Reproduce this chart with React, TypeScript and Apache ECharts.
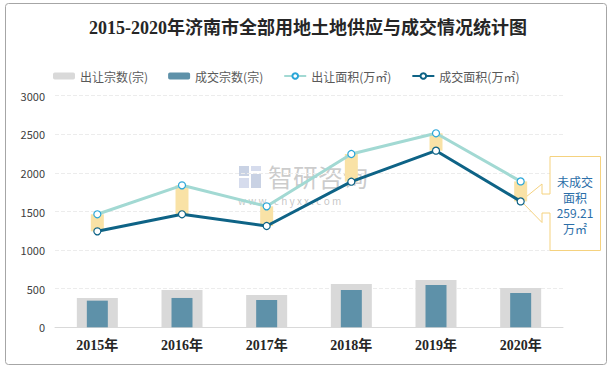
import React, { useEffect, useRef } from "react";
import * as echarts from "echarts";

const categories = ["2015年", "2016年", "2017年", "2018年", "2019年", "2020年"];
const supplyCount = [380, 483, 418, 561, 613, 509];
const dealCount = [345, 380, 354, 483, 548, 444];
const supplyArea = [1464, 1839, 1567, 2245, 2513, 1890];
const dealArea = [1243, 1464, 1312, 1886, 2288, 1631];
const yTicks = { min: 0, max: 3000, interval: 500 };
const calloutLines = ["未成交", "面积", "259.21", "万㎡"];

const serif = "Liberation Serif, 'Noto Sans CJK SC', serif";
const sans = "'Noto Sans CJK SC', 'Noto Sans', sans-serif";

export default function App() {
  const ref = useRef<HTMLDivElement>(null);
  useEffect(() => {
    const chart = echarts.init(ref.current!, undefined, { renderer: "svg" });
    const gapData = categories.map((_, i) => [i, dealArea[i], supplyArea[i]]);
    chart.setOption({
      animation: false,
      backgroundColor: "#ffffff",
      title: {
        text: "2015-2020年济南市全部用地土地供应与成交情况统计图",
        left: "center",
        top: 14,
        textStyle: { fontFamily: serif, fontWeight: "bold", fontSize: 18, color: "#262626" },
      },
      legend: {
        left: 48,
        top: 65,
        itemWidth: 22,
        itemHeight: 7,
        itemGap: 20,
        textStyle: { fontFamily: sans, fontSize: 12, color: "#595959" },
        data: ["出让宗数(宗)", "成交宗数(宗)", "出让面积(万㎡)", "成交面积(万㎡)"],
      },
      grid: { left: 55, right: 53, top: 95.7, bottom: 41.7 },
      xAxis: [
        {
          type: "category",
          data: categories,
          axisLine: { lineStyle: { color: "#d9d9d9" } },
          axisTick: { show: false },
          axisLabel: { fontFamily: serif, fontWeight: "bold", fontSize: 14, color: "#262626", margin: 11 },
        },
        { type: "category", data: categories, show: false },
      ],
      yAxis: {
        type: "value",
        min: yTicks.min,
        max: yTicks.max,
        interval: yTicks.interval,
        axisLine: { show: false },
        axisTick: { show: false },
        axisLabel: {
          fontFamily: sans,
          fontSize: 11,
          color: "#404040",
          margin: 10,
          formatter: (v: number) => String(v),
        },
        splitLine: { lineStyle: { color: "#ececec", type: "dashed" } },
      },
      series: [
        {
          name: "出让宗数(宗)",
          type: "bar",
          xAxisIndex: 0,
          data: supplyCount,
          barWidth: 41,
          itemStyle: { color: "#d9d9d9" },
          z: 1,
        },
        {
          name: "成交宗数(宗)",
          type: "bar",
          xAxisIndex: 1,
          data: dealCount,
          barWidth: 21,
          itemStyle: { color: "#5e91a9" },
          z: 2,
        },
        {
          type: "custom",
          xAxisIndex: 0,
          data: gapData,
          z: 3,
          silent: true,
          renderItem: (params: any, api: any) => {
            const lo = api.coord([api.value(0), api.value(1)]);
            const hi = api.coord([api.value(0), api.value(2)]);
            const w = 13;
            return {
              type: "rect",
              shape: { x: lo[0] - w / 2, y: hi[1], width: w, height: lo[1] - hi[1] },
              style: { fill: "#f9e2a6" },
            };
          },
        },
        {
          name: "出让面积(万㎡)",
          type: "line",
          data: supplyArea,
          symbol: "circle",
          symbolSize: 7,
          lineStyle: { color: "#a2d9d3", width: 3 },
          itemStyle: { color: "#ffffff", borderColor: "#2aa6d8", borderWidth: 1.2 },
          z: 4,
        },
        {
          name: "成交面积(万㎡)",
          type: "line",
          data: dealArea,
          symbol: "circle",
          symbolSize: 7,
          lineStyle: { color: "#0e6386", width: 3 },
          itemStyle: { color: "#ffffff", borderColor: "#0e6386", borderWidth: 1.2 },
          z: 5,
        },
      ],
      graphic: [
        {
          type: "rect",
          shape: { x: 5.5, y: 3.5, width: 601, height: 361, r: 3 },
          style: { fill: "none", stroke: "#a6a6a6", lineWidth: 1 },
          silent: true,
        },
        {
          type: "group",
          silent: true,
          z: 0,
          children: [
            { type: "rect", shape: { x: 239, y: 166, width: 10, height: 10 }, style: { fill: "#c9d2e4" } },
            { type: "rect", shape: { x: 251, y: 166, width: 10, height: 5 }, style: { fill: "#d6dced" } },
            { type: "rect", shape: { x: 239, y: 178, width: 10, height: 10 }, style: { fill: "#d6dced" } },
            { type: "rect", shape: { x: 251, y: 174, width: 10, height: 14 }, style: { fill: "#c9d2e4" } },
            {
              type: "text",
              style: { x: 268, y: 188, text: "智研咨询", fontSize: 25, lineHeight: 25, fontFamily: sans, fill: "rgba(160,160,160,0.55)", verticalAlign: "bottom" },
            },
            {
              type: "text",
              style: { x: 238, y: 195, text: "w w w . c h y x x . c o m", fontSize: 10, lineHeight: 10, fontFamily: sans, fill: "rgba(160,160,160,0.6)", verticalAlign: "top" },
            },
          ],
        },
        {
          type: "polygon",
          z: 1,
          silent: true,
          shape: {
            points: [
              [550, 156.5], [600.5, 156.5], [600.5, 250.5], [550, 250.5], [550, 213],
              [542, 213], [542, 222.5], [521, 201], [542, 184], [542, 194], [550, 194],
            ],
          },
          style: { fill: "#ffffff", stroke: "#f5d27f", lineWidth: 1 },
        },
        {
          type: "text",
          z: 11,
          silent: true,
          style: {
            x: 575,
            y: 205,
            text: calloutLines.join("\n"),
            fontSize: 12,
            lineHeight: 15.5,
            fontFamily: sans,
            fill: "#2b6ea8",
            align: "center",
            verticalAlign: "middle",
          },
        },
      ],
    });
    return () => chart.dispose();
  }, []);
  return (
    <div
      ref={ref}
      style={{ position: "absolute", left: 0, top: 0, width: 616, height: 369 }}
    />
  );
}
